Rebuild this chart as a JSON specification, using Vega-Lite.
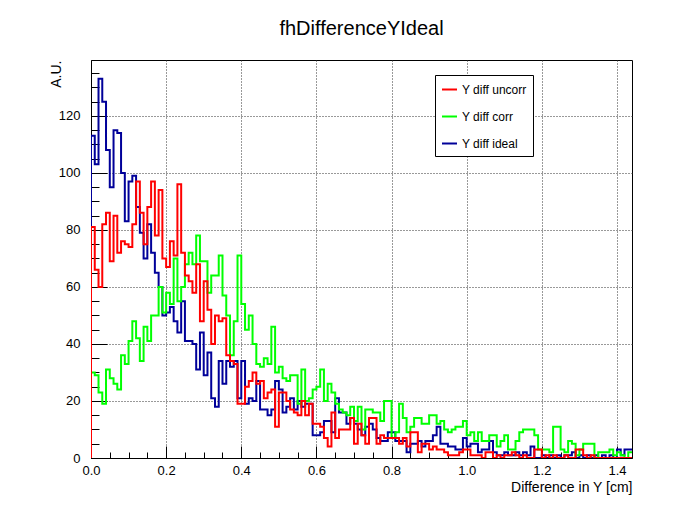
{
  "$schema": "https://vega.github.io/schema/vega-lite/v6.json",
  "width": 541,
  "height": 398,
  "autosize": {"type": "none"},
  "padding": {"left": 91, "top": 60, "right": 61, "bottom": 49},
  "background": "white",
  "title": {"text": "fhDifferenceYIdeal", "font": "Liberation Sans", "fontSize": 20, "fontWeight": "normal", "color": "black", "anchor": "middle", "offset": 21},
  "config": {
    "view": {"stroke": "black", "strokeWidth": 1},
    "font": "Liberation Sans",
    "axis": {"labelFont": "Liberation Sans", "labelFontSize": 13, "labelColor": "black", "titleFont": "Liberation Sans", "titleFontWeight": "normal", "titleColor": "black", "domainColor": "black", "tickColor": "black", "gridColor": "#333333", "gridDash": [1, 2], "gridWidth": 1, "labelFlush": false}
  },
  "data": {"values": [
    {"x":0,"Y diff uncorr":0,"Y diff corr":0,"Y diff ideal":0},
    {"x":0.00,"Y diff uncorr":81,"Y diff corr":30,"Y diff ideal":113},
    {"x":0.01,"Y diff uncorr":66,"Y diff corr":29,"Y diff ideal":103},
    {"x":0.02,"Y diff uncorr":60,"Y diff corr":23,"Y diff ideal":133},
    {"x":0.03,"Y diff uncorr":82,"Y diff corr":19,"Y diff ideal":125},
    {"x":0.04,"Y diff uncorr":86,"Y diff corr":31,"Y diff ideal":108},
    {"x":0.05,"Y diff uncorr":69,"Y diff corr":28,"Y diff ideal":95},
    {"x":0.06,"Y diff uncorr":85,"Y diff corr":26,"Y diff ideal":115},
    {"x":0.07,"Y diff uncorr":72,"Y diff corr":24,"Y diff ideal":114},
    {"x":0.08,"Y diff uncorr":76,"Y diff corr":36,"Y diff ideal":100},
    {"x":0.09,"Y diff uncorr":75,"Y diff corr":33,"Y diff ideal":83},
    {"x":0.10,"Y diff uncorr":74,"Y diff corr":41,"Y diff ideal":97},
    {"x":0.11,"Y diff uncorr":82,"Y diff corr":48,"Y diff ideal":99},
    {"x":0.12,"Y diff uncorr":97,"Y diff corr":42,"Y diff ideal":88},
    {"x":0.13,"Y diff uncorr":86,"Y diff corr":34,"Y diff ideal":79},
    {"x":0.14,"Y diff uncorr":75,"Y diff corr":46,"Y diff ideal":70},
    {"x":0.15,"Y diff uncorr":88,"Y diff corr":41,"Y diff ideal":82},
    {"x":0.16,"Y diff uncorr":97,"Y diff corr":50,"Y diff ideal":72},
    {"x":0.17,"Y diff uncorr":78,"Y diff corr":50,"Y diff ideal":65},
    {"x":0.18,"Y diff uncorr":94,"Y diff corr":60,"Y diff ideal":60},
    {"x":0.19,"Y diff uncorr":70,"Y diff corr":51,"Y diff ideal":50},
    {"x":0.20,"Y diff uncorr":67,"Y diff corr":58,"Y diff ideal":51},
    {"x":0.21,"Y diff uncorr":76,"Y diff corr":54,"Y diff ideal":53},
    {"x":0.22,"Y diff uncorr":71,"Y diff corr":70,"Y diff ideal":48},
    {"x":0.23,"Y diff uncorr":96,"Y diff corr":55,"Y diff ideal":44},
    {"x":0.24,"Y diff uncorr":72,"Y diff corr":60,"Y diff ideal":55},
    {"x":0.25,"Y diff uncorr":64,"Y diff corr":68,"Y diff ideal":41},
    {"x":0.26,"Y diff uncorr":62,"Y diff corr":72,"Y diff ideal":41},
    {"x":0.27,"Y diff uncorr":58,"Y diff corr":68,"Y diff ideal":40},
    {"x":0.28,"Y diff uncorr":68,"Y diff corr":78,"Y diff ideal":31},
    {"x":0.29,"Y diff uncorr":48,"Y diff corr":69,"Y diff ideal":44},
    {"x":0.30,"Y diff uncorr":62,"Y diff corr":69,"Y diff ideal":29},
    {"x":0.31,"Y diff uncorr":52,"Y diff corr":58,"Y diff ideal":37},
    {"x":0.32,"Y diff uncorr":40,"Y diff corr":64,"Y diff ideal":21},
    {"x":0.33,"Y diff uncorr":50,"Y diff corr":64,"Y diff ideal":18},
    {"x":0.34,"Y diff uncorr":48,"Y diff corr":71,"Y diff ideal":34},
    {"x":0.35,"Y diff uncorr":49,"Y diff corr":57,"Y diff ideal":26},
    {"x":0.36,"Y diff uncorr":36,"Y diff corr":50,"Y diff ideal":34},
    {"x":0.37,"Y diff uncorr":34,"Y diff corr":36,"Y diff ideal":32},
    {"x":0.38,"Y diff uncorr":33,"Y diff corr":48,"Y diff ideal":34},
    {"x":0.39,"Y diff uncorr":19,"Y diff corr":71,"Y diff ideal":21},
    {"x":0.40,"Y diff uncorr":19,"Y diff corr":54,"Y diff ideal":34},
    {"x":0.41,"Y diff uncorr":25,"Y diff corr":45,"Y diff ideal":19},
    {"x":0.42,"Y diff uncorr":27,"Y diff corr":50,"Y diff ideal":21},
    {"x":0.43,"Y diff uncorr":30,"Y diff corr":40,"Y diff ideal":20},
    {"x":0.44,"Y diff uncorr":26,"Y diff corr":33,"Y diff ideal":27},
    {"x":0.45,"Y diff uncorr":27,"Y diff corr":32,"Y diff ideal":17},
    {"x":0.46,"Y diff uncorr":21,"Y diff corr":35,"Y diff ideal":17},
    {"x":0.47,"Y diff uncorr":23,"Y diff corr":33,"Y diff ideal":15},
    {"x":0.48,"Y diff uncorr":24,"Y diff corr":46,"Y diff ideal":17},
    {"x":0.49,"Y diff uncorr":11,"Y diff corr":30,"Y diff ideal":27},
    {"x":0.50,"Y diff uncorr":23,"Y diff corr":32,"Y diff ideal":24},
    {"x":0.51,"Y diff uncorr":23,"Y diff corr":28,"Y diff ideal":16},
    {"x":0.52,"Y diff uncorr":20,"Y diff corr":27,"Y diff ideal":18},
    {"x":0.53,"Y diff uncorr":17,"Y diff corr":29,"Y diff ideal":21},
    {"x":0.54,"Y diff uncorr":16,"Y diff corr":29,"Y diff ideal":17},
    {"x":0.55,"Y diff uncorr":15,"Y diff corr":19,"Y diff ideal":20},
    {"x":0.56,"Y diff uncorr":20,"Y diff corr":31,"Y diff ideal":18},
    {"x":0.57,"Y diff uncorr":15,"Y diff corr":20,"Y diff ideal":19},
    {"x":0.58,"Y diff uncorr":19,"Y diff corr":21,"Y diff ideal":19},
    {"x":0.59,"Y diff uncorr":12,"Y diff corr":24,"Y diff ideal":8},
    {"x":0.60,"Y diff uncorr":12,"Y diff corr":25,"Y diff ideal":8},
    {"x":0.61,"Y diff uncorr":11,"Y diff corr":31,"Y diff ideal":9},
    {"x":0.62,"Y diff uncorr":7,"Y diff corr":20,"Y diff ideal":13},
    {"x":0.63,"Y diff uncorr":4,"Y diff corr":26,"Y diff ideal":13},
    {"x":0.64,"Y diff uncorr":16,"Y diff corr":23,"Y diff ideal":9},
    {"x":0.65,"Y diff uncorr":7,"Y diff corr":19,"Y diff ideal":21},
    {"x":0.66,"Y diff uncorr":10,"Y diff corr":17,"Y diff ideal":16},
    {"x":0.67,"Y diff uncorr":10,"Y diff corr":16,"Y diff ideal":16},
    {"x":0.68,"Y diff uncorr":10,"Y diff corr":15,"Y diff ideal":12},
    {"x":0.69,"Y diff uncorr":14,"Y diff corr":18,"Y diff ideal":14},
    {"x":0.70,"Y diff uncorr":5,"Y diff corr":13,"Y diff ideal":12},
    {"x":0.71,"Y diff uncorr":12,"Y diff corr":18,"Y diff ideal":10},
    {"x":0.72,"Y diff uncorr":8,"Y diff corr":10,"Y diff ideal":8},
    {"x":0.73,"Y diff uncorr":5,"Y diff corr":17,"Y diff ideal":11},
    {"x":0.74,"Y diff uncorr":14,"Y diff corr":17,"Y diff ideal":12},
    {"x":0.75,"Y diff uncorr":14,"Y diff corr":16,"Y diff ideal":10},
    {"x":0.76,"Y diff uncorr":5,"Y diff corr":16,"Y diff ideal":7},
    {"x":0.77,"Y diff uncorr":8,"Y diff corr":13,"Y diff ideal":6},
    {"x":0.78,"Y diff uncorr":7,"Y diff corr":20,"Y diff ideal":6},
    {"x":0.79,"Y diff uncorr":7,"Y diff corr":20,"Y diff ideal":9},
    {"x":0.80,"Y diff uncorr":7,"Y diff corr":7,"Y diff ideal":9},
    {"x":0.81,"Y diff uncorr":7,"Y diff corr":9,"Y diff ideal":6},
    {"x":0.82,"Y diff uncorr":5,"Y diff corr":19,"Y diff ideal":6},
    {"x":0.83,"Y diff uncorr":7,"Y diff corr":14,"Y diff ideal":6},
    {"x":0.84,"Y diff uncorr":4,"Y diff corr":9,"Y diff ideal":2},
    {"x":0.85,"Y diff uncorr":9,"Y diff corr":11,"Y diff ideal":5},
    {"x":0.86,"Y diff uncorr":9,"Y diff corr":14,"Y diff ideal":5},
    {"x":0.87,"Y diff uncorr":2,"Y diff corr":14,"Y diff ideal":6},
    {"x":0.88,"Y diff uncorr":5,"Y diff corr":12,"Y diff ideal":4},
    {"x":0.89,"Y diff uncorr":5,"Y diff corr":12,"Y diff ideal":6},
    {"x":0.90,"Y diff uncorr":3,"Y diff corr":15,"Y diff ideal":6},
    {"x":0.91,"Y diff uncorr":4,"Y diff corr":15,"Y diff ideal":8},
    {"x":0.92,"Y diff uncorr":3,"Y diff corr":12,"Y diff ideal":11},
    {"x":0.93,"Y diff uncorr":3,"Y diff corr":13,"Y diff ideal":5},
    {"x":0.94,"Y diff uncorr":2,"Y diff corr":10,"Y diff ideal":5},
    {"x":0.95,"Y diff uncorr":1,"Y diff corr":9,"Y diff ideal":4},
    {"x":0.96,"Y diff uncorr":1,"Y diff corr":10,"Y diff ideal":4},
    {"x":0.97,"Y diff uncorr":1,"Y diff corr":11,"Y diff ideal":3},
    {"x":0.98,"Y diff uncorr":2,"Y diff corr":11,"Y diff ideal":3},
    {"x":0.99,"Y diff uncorr":3,"Y diff corr":13,"Y diff ideal":7},
    {"x":1.00,"Y diff uncorr":3,"Y diff corr":8,"Y diff ideal":4},
    {"x":1.01,"Y diff uncorr":1,"Y diff corr":9,"Y diff ideal":5},
    {"x":1.02,"Y diff uncorr":1,"Y diff corr":6,"Y diff ideal":5},
    {"x":1.03,"Y diff uncorr":1,"Y diff corr":9,"Y diff ideal":2},
    {"x":1.04,"Y diff uncorr":0,"Y diff corr":6,"Y diff ideal":3},
    {"x":1.05,"Y diff uncorr":2,"Y diff corr":6,"Y diff ideal":3},
    {"x":1.06,"Y diff uncorr":2,"Y diff corr":8,"Y diff ideal":6},
    {"x":1.07,"Y diff uncorr":0,"Y diff corr":8,"Y diff ideal":2},
    {"x":1.08,"Y diff uncorr":1,"Y diff corr":4,"Y diff ideal":1},
    {"x":1.09,"Y diff uncorr":0,"Y diff corr":6,"Y diff ideal":1},
    {"x":1.10,"Y diff uncorr":1,"Y diff corr":8,"Y diff ideal":2},
    {"x":1.11,"Y diff uncorr":1,"Y diff corr":3,"Y diff ideal":1},
    {"x":1.12,"Y diff uncorr":2,"Y diff corr":3,"Y diff ideal":1},
    {"x":1.13,"Y diff uncorr":1,"Y diff corr":6,"Y diff ideal":2},
    {"x":1.14,"Y diff uncorr":0,"Y diff corr":9,"Y diff ideal":1},
    {"x":1.15,"Y diff uncorr":1,"Y diff corr":10,"Y diff ideal":2},
    {"x":1.16,"Y diff uncorr":0,"Y diff corr":10,"Y diff ideal":1},
    {"x":1.17,"Y diff uncorr":0,"Y diff corr":10,"Y diff ideal":4},
    {"x":1.18,"Y diff uncorr":3,"Y diff corr":8,"Y diff ideal":0},
    {"x":1.19,"Y diff uncorr":3,"Y diff corr":3,"Y diff ideal":0},
    {"x":1.20,"Y diff uncorr":0,"Y diff corr":3,"Y diff ideal":1},
    {"x":1.21,"Y diff uncorr":1,"Y diff corr":3,"Y diff ideal":0},
    {"x":1.22,"Y diff uncorr":0,"Y diff corr":2,"Y diff ideal":1},
    {"x":1.23,"Y diff uncorr":1,"Y diff corr":11,"Y diff ideal":0},
    {"x":1.24,"Y diff uncorr":0,"Y diff corr":11,"Y diff ideal":1},
    {"x":1.25,"Y diff uncorr":0,"Y diff corr":3,"Y diff ideal":0},
    {"x":1.26,"Y diff uncorr":1,"Y diff corr":2,"Y diff ideal":1},
    {"x":1.27,"Y diff uncorr":0,"Y diff corr":6,"Y diff ideal":1},
    {"x":1.28,"Y diff uncorr":0,"Y diff corr":5,"Y diff ideal":2},
    {"x":1.29,"Y diff uncorr":3,"Y diff corr":1,"Y diff ideal":0},
    {"x":1.30,"Y diff uncorr":3,"Y diff corr":3,"Y diff ideal":1},
    {"x":1.31,"Y diff uncorr":1,"Y diff corr":5,"Y diff ideal":0},
    {"x":1.32,"Y diff uncorr":0,"Y diff corr":5,"Y diff ideal":1},
    {"x":1.33,"Y diff uncorr":1,"Y diff corr":5,"Y diff ideal":0},
    {"x":1.34,"Y diff uncorr":0,"Y diff corr":0,"Y diff ideal":1},
    {"x":1.35,"Y diff uncorr":0,"Y diff corr":2,"Y diff ideal":0},
    {"x":1.36,"Y diff uncorr":0,"Y diff corr":2,"Y diff ideal":1},
    {"x":1.37,"Y diff uncorr":0,"Y diff corr":2,"Y diff ideal":0},
    {"x":1.38,"Y diff uncorr":0,"Y diff corr":3,"Y diff ideal":1},
    {"x":1.39,"Y diff uncorr":0,"Y diff corr":1,"Y diff ideal":0},
    {"x":1.40,"Y diff uncorr":0,"Y diff corr":2,"Y diff ideal":3},
    {"x":1.41,"Y diff uncorr":0,"Y diff corr":1,"Y diff ideal":1},
    {"x":1.42,"Y diff uncorr":0,"Y diff corr":0,"Y diff ideal":3},
    {"x":1.43,"Y diff uncorr":0,"Y diff corr":2,"Y diff ideal":3},
    {"x":1.44,"Y diff uncorr":0,"Y diff corr":2,"Y diff ideal":3}
  ]},
  "transform": [{"fold": ["Y diff ideal", "Y diff corr", "Y diff uncorr"], "as": ["s", "y"]}],
  "layer": [
    {
      "mark": {"type": "line", "interpolate": "step-after", "strokeWidth": 2, "clip": true},
      "encoding": {
        "x": {"field": "x", "type": "quantitative", "scale": {"domain": [0, 1.44], "nice": false, "zero": false},
              "axis": {"orient": "bottom", "values": [0, 0.2, 0.4, 0.6, 0.8, 1, 1.2, 1.4], "tickSize": -12, "labelPadding": 18, "grid": true, "title": "Difference in Y [cm]", "titleFontSize": 14, "titleX": 541, "titleY": 33, "titleAlign": "right", "titleBaseline": "alphabetic", "titleAnchor": null}},
        "y": {"field": "y", "type": "quantitative", "scale": {"domain": [0, 139.6], "nice": false},
              "axis": {"orient": "left", "values": [0, 20, 40, 60, 80, 100, 120], "tickSize": -16, "labelPadding": 27, "grid": true, "title": "A.U.", "titleFontSize": 14, "titleAngle": -90, "titleX": -31, "titleY": 0, "titleAlign": "right", "titleBaseline": "alphabetic", "titleAnchor": null}},
        "color": {"field": "s", "type": "nominal",
                  "scale": {"domain": ["Y diff uncorr", "Y diff corr", "Y diff ideal"], "range": ["#ff0000", "#00ff00", "#000099"]},
                  "legend": {"orient": "none", "legendX": 344, "legendY": 15, "direction": "vertical", "title": null, "symbolType": "stroke", "symbolSize": 225, "symbolStrokeWidth": 2, "labelFont": "Liberation Sans", "labelFontSize": 12, "labelColor": "black", "strokeColor": "black", "fillColor": "white", "padding": 6, "rowPadding": 12, "labelOffset": 4}}
      }
    },
    {
      "mark": {"type": "point", "opacity": 0},
      "encoding": {
        "x": {"field": "x", "type": "quantitative", "scale": {"domain": [0, 1.44], "nice": false, "zero": false},
              "axis": {"orient": "bottom", "values": [0.05, 0.1, 0.15, 0.25, 0.3, 0.35, 0.45, 0.5, 0.55, 0.65, 0.7, 0.75, 0.85, 0.9, 0.95, 1.05, 1.1, 1.15, 1.25, 1.3, 1.35], "tickSize": -6, "labels": false, "grid": false, "domain": false, "title": null}},
        "y": {"field": "y", "type": "quantitative", "scale": {"domain": [0, 139.6], "nice": false},
              "axis": {"orient": "left", "values": [5, 10, 15, 25, 30, 35, 45, 50, 55, 65, 70, 75, 85, 90, 95, 105, 110, 115, 125, 130, 135], "tickSize": -8, "labels": false, "grid": false, "domain": false, "title": null}}
      }
    }
  ],
  "resolve": {"axis": {"x": "independent", "y": "independent"}}
}
